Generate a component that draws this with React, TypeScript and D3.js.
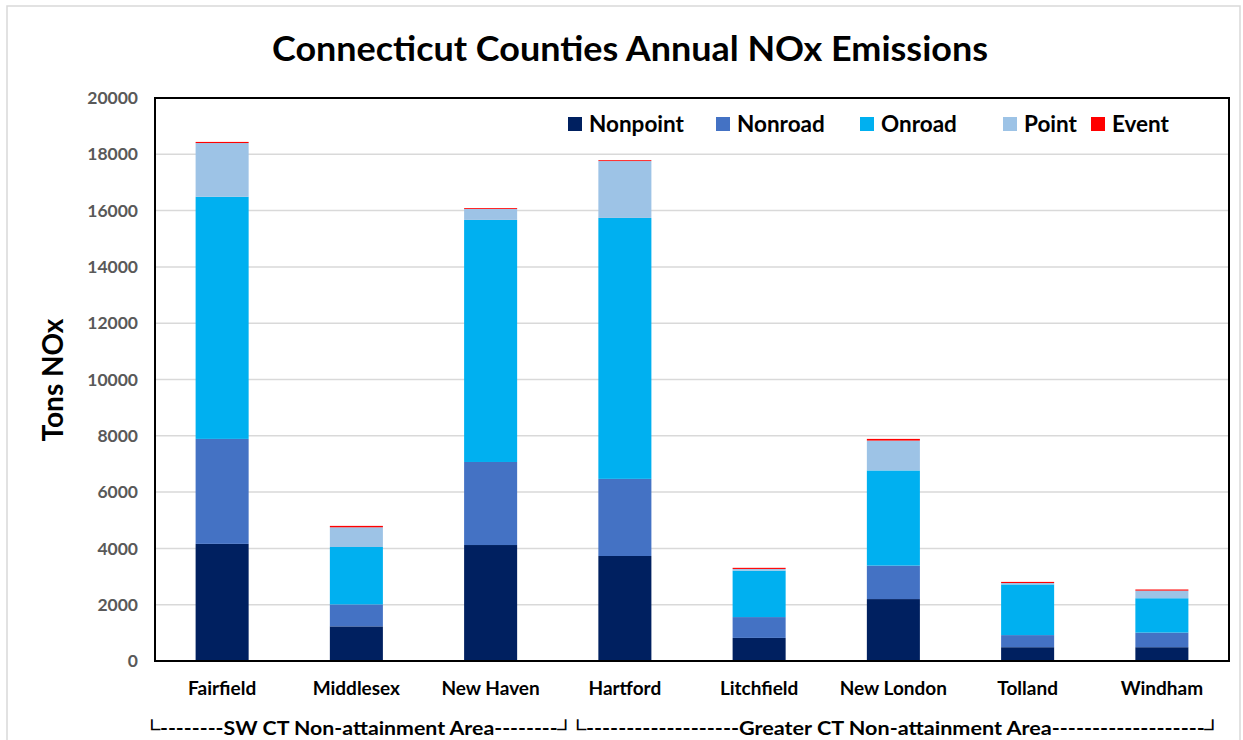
import { useMemo } from "react";
import * as d3 from "d3";

const WIDTH = 1243;
const HEIGHT = 740;
const MARGIN = { top: 98, right: 14, bottom: 79, left: 155 };

const COUNTIES = ["Fairfield", "Middlesex", "New Haven", "Hartford", "Litchfield", "New London", "Tolland", "Windham"];
const SERIES = ["Nonpoint", "Nonroad", "Onroad", "Point", "Event"];
const COLORS = ["#002060", "#4472c4", "#00b0f0", "#9dc3e6", "#ff0000"];

const nonpoint = [4160, 1230, 4120, 3730, 820, 2200, 490, 490];
const nonroad = [3730, 780, 2950, 2740, 740, 1190, 430, 520];
const onroad = [8600, 2040, 8600, 9270, 1650, 3380, 1800, 1220];
const point = [1910, 700, 390, 2020, 60, 1060, 50, 270];
const event = [40, 50, 30, 30, 40, 60, 40, 40];

const Y_TICKS = [0, 2000, 4000, 6000, 8000, 10000, 12000, 14000, 16000, 18000, 20000];

const AREAS = [
  { label: "└--------SW CT Non-attainment Area--------┘", from: 0, to: 2 },
  { label: "└-------------------Greater CT Non-attainment Area-------------------┘", from: 3, to: 7 },
];

const FONT = "Lato, 'Open Sans', sans-serif";

const App = () => {
  const boundsWidth = WIDTH - MARGIN.left - MARGIN.right;
  const boundsHeight = HEIGHT - MARGIN.top - MARGIN.bottom;

  const rows = COUNTIES.map((c, i) => ({
    county: c,
    Nonpoint: nonpoint[i],
    Nonroad: nonroad[i],
    Onroad: onroad[i],
    Point: point[i],
    Event: event[i],
  }));

  const stacked = useMemo(() => d3.stack<any>().keys(SERIES)(rows), []);

  const xScale = d3.scaleBand().domain(COUNTIES).range([0, boundsWidth]).paddingInner(0.605).paddingOuter(0.3025);
  const yScale = d3.scaleLinear().domain([0, 20000]).range([boundsHeight, 0]);
  const colorScale = d3.scaleOrdinal<string>().domain(SERIES).range(COLORS);
  const step = xScale.step();

  const legendX = [568, 716, 860, 1003, 1091];

  return (
    <div style={{ position: "fixed", left: 0, top: 0 }}>
      <svg width={WIDTH} height={HEIGHT} style={{ display: "block", background: "#fff" }}>
        <rect x={7} y={6} width={1233} height={740} fill="#fff" stroke="#d9d9d9" strokeWidth={1.5} />
        <text x={630} y={61} textAnchor="middle" fontFamily={FONT} fontWeight="bold" fontSize={35} fill="#000" textLength={716} lengthAdjust="spacingAndGlyphs">
          Connecticut Counties Annual NOx Emissions
        </text>
        <text transform="translate(63,380) rotate(-90)" textAnchor="middle" fontFamily={FONT} fontWeight="bold" fontSize={28} fill="#000">
          Tons NOx
        </text>
        <g transform={`translate(${MARGIN.left},${MARGIN.top})`}>
          {Y_TICKS.map((t) => (
            <g key={t}>
              {t > 0 && t < 20000 && (
                <line x1={0} x2={boundsWidth} y1={yScale(t)} y2={yScale(t)} stroke="#d9d9d9" strokeWidth={1.5} />
              )}
              <text x={-17} y={yScale(t)} dy="0.35em" textAnchor="end" fontFamily={FONT} fontWeight="bold" fontSize={17.5} fill="#595959">
                {t}
              </text>
            </g>
          ))}
          {stacked.map((layer) =>
            layer.map((d, j) => (
              <rect
                key={layer.key + "_" + j}
                x={xScale(COUNTIES[j])}
                width={xScale.bandwidth()}
                y={yScale(d[1])}
                height={yScale(d[0]) - yScale(d[1])}
                fill={colorScale(layer.key)}
              />
            ))
          )}
          <rect x={0} y={0} width={boundsWidth} height={boundsHeight} fill="none" stroke="#000" strokeWidth={2} />
          {COUNTIES.map((c) => (
            <text key={c} x={(xScale(c) ?? 0) + xScale.bandwidth() / 2} y={boundsHeight + 34} textAnchor="middle" fontFamily={FONT} fontWeight="bold" fontSize={19} fill="#000">
              {c}
            </text>
          ))}
          {AREAS.map((a) => {
            const x0 = step * a.from + (a.from === 0 ? -11 : 12);
            const x1 = step * (a.to + 1) + (a.from === 0 ? 16 : -8);
            return (
              <text key={a.label} x={x0} y={boundsHeight + 74} fontFamily={FONT} fontWeight="bold" fontSize={18.5} fill="#000" textLength={x1 - x0} lengthAdjust="spacingAndGlyphs">
                {a.label}
              </text>
            );
          })}
        </g>
        {SERIES.map((s, i) => (
          <g key={s} transform={`translate(${legendX[i]},117)`}>
            <rect x={0} y={0} width={14} height={14} fill={colorScale(s)} />
            <text x={21} y={7} dy="0.36em" fontFamily={FONT} fontWeight="bold" fontSize={22.5} fill="#000">
              {s}
            </text>
          </g>
        ))}
      </svg>
    </div>
  );
};

export default App;
